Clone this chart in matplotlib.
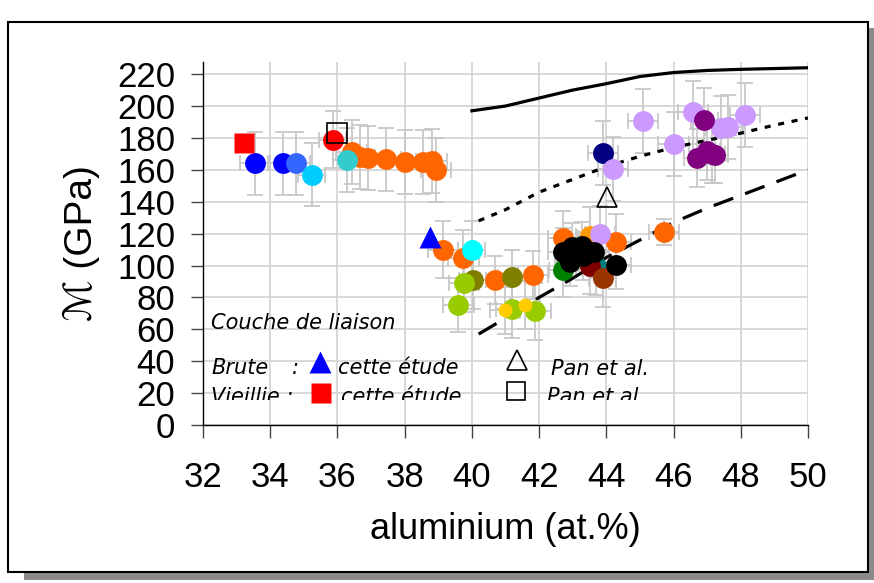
import matplotlib
matplotlib.use("Agg")
import matplotlib.pyplot as plt
from matplotlib.patches import Rectangle
from matplotlib.lines import Line2D
from matplotlib.transforms import Bbox, TransformedBbox

# ---------------- data ----------------
x_ticks = [32, 34, 36, 38, 40, 42, 44, 46, 48, 50]
y_ticks = [0, 20, 40, 60, 80, 100, 120, 140, 160, 180, 200, 220]

# model curves
solid_x = [40, 41, 42, 43, 44, 45, 46, 47, 48, 50]
solid_y = [197, 200, 205, 210, 214, 218.5, 221, 222.3, 223, 224]
dotted_x = [40.2, 41, 42, 43, 44, 45, 46, 47, 48, 49, 50]
dotted_y = [128, 135, 146, 154, 162, 168.5, 174, 178.5, 183, 188, 192.5]
dashed_x = [40.2, 41, 42, 43, 44, 45, 46, 47, 48, 49, 50]
dashed_y = [57, 67, 80, 92, 105, 116, 127, 136, 144, 152, 160]

# circle series
blue_x = [33.55, 34.39]; blue_y = [164, 164]
royal_x = [34.77]; royal_y = [164]
sky_x = [35.23]; sky_y = [157]
redc_x = [35.86]; redc_y = [179]
turq_x = [36.28]; turq_y = [166]
orange_x = [36.42, 36.67, 36.92, 37.43, 38.01, 38.54, 38.80, 38.93,
            39.15, 39.75, 40.69, 41.81, 42.72, 44.29, 45.72]
orange_y = [171, 168, 167.5, 166.5, 165, 165, 165.5, 160,
            110, 104.5, 91, 94, 117, 114.5, 121]
cyan_x = [39.99]; cyan_y = [110]
olive_x = [40.02, 41.18]; olive_y = [91, 92.8]
ygreen_x = [39.77, 39.60, 41.18, 41.89]; ygreen_y = [89, 75, 72.8, 71.2]
gold_x = [40.99, 41.58]; gold_y = [71.8, 75]
green_x = [42.70]; green_y = [97.4]
teal_x = [43.70]; teal_y = [99.5]
dred_x = [43.51]; dred_y = [100]
brown_x = [43.89]; brown_y = [92]
orange2_x = [43.51]; orange2_y = [118.5]
lav_x = [43.81, 44.19, 45.10, 46.00, 46.57, 47.41, 47.63, 48.13]
lav_y = [119.5, 160.5, 190.5, 176.3, 196, 186, 187, 194.5]
navy_x = [43.89]; navy_y = [170.5]
purple_x = [46.91, 46.71, 46.99, 47.13, 47.23]
purple_y = [191.5, 167.5, 171.5, 170, 169.5]
black_x = [44.29, 42.72, 42.97, 43.27, 43.62, 42.92, 43.31]
black_y = [100.3, 108.3, 111.5, 112.5, 108.3, 102, 106.2]

# error sizes
blue_xe = [0.45, 0.45]; blue_ye = [20, 20]
royal_xe = [0.4]; royal_ye = [20]
sky_xe = [0.4]; sky_ye = [20]
redc_xe = [0.4]; redc_ye = [18]
turq_xe = [0.4]; turq_ye = [20]
orange_xe = [0.45] * 15
orange_ye = [20, 20, 20, 20, 20, 20, 20, 20, 18, 18, 15, 15, 17, 18, 8]
cyan_xe = [0.4]; cyan_ye = [18]
olive_xe = [0.4, 0.4]; olive_ye = [18, 17]
ygreen_xe = [0.45, 0.45, 0.45, 0.45]; ygreen_ye = [18, 17, 18, 18]
gold_xe = [0.45, 0.45]; gold_ye = [15, 15]
green_xe = [0.4]; green_ye = [17]
teal_xe = [0.4]; teal_ye = [18]
dred_xe = [0.4]; dred_ye = [18]
brown_xe = [0.4]; brown_ye = [18]
orange2_xe = [0.4]; orange2_ye = [18]
lav_xe = [0.45] * 8; lav_ye = [18, 20, 20, 20, 20, 20, 20, 20]
navy_xe = [0.45]; navy_ye = [20]
purple_xe = [0.4] * 5; purple_ye = [20, 18, 18, 18, 18]
black_xe = [0.45] * 7; black_ye = [15, 15, 15, 15, 15, 15, 15]

# single-symbol points
bt_x = [38.74]; bt_y = [117.9]      # Brute, this study (filled triangle)
vs_x = [33.23]; vs_y = [177]        # Vieillie, this study (filled square)
pt_x = [44.03]; pt_y = [143]        # Brute, Pan et al. (open triangle)
ps_x = [36.0]; ps_y = [183]         # Vieillie, Pan et al. (open square)

# ---------------- figure ----------------
W, H = 874, 583
fig = plt.figure(figsize=(W / 100, H / 100), dpi=100)
fig.patch.set_facecolor("white")


def P(px, py):
    return px / W, 1 - py / H


# outer frame with shadow
fig.patches.append(Rectangle(P(24, 580), 850 / W, 552 / H, transform=fig.transFigure,
                             facecolor="#8a8a8a", edgecolor="none", zorder=0))
fig.patches.append(Rectangle(P(8, 572), 860 / W, 550 / H, transform=fig.transFigure,
                             facecolor="white", edgecolor="black", lw=1.5, zorder=1))

l, b = P(203, 425)
r, t = P(808, 62)
ax = fig.add_axes([l, b, r - l, t - b])
ax.set_zorder(2)
ax.patch.set_alpha(0)
ax.set_xlim(32, 50)
ax.set_ylim(0, 227.6)
ax.set_xticks(x_ticks)
ax.set_yticks(y_ticks)
ax.grid(True, color="#d2d2d2", lw=1.2, zorder=0)
ax.set_axisbelow(True)
for s in ["top", "right"]:
    ax.spines[s].set_visible(False)
for s in ["left", "bottom"]:
    ax.spines[s].set_linewidth(1.0)
    ax.spines[s].set_color("black")
ax.tick_params(axis="both", direction="out", length=9, width=1.0, color="#444444",
               labelsize=25)
ax.tick_params(axis="x", pad=17)
ax.tick_params(axis="y", pad=11)
for lab in ax.get_xticklabels() + ax.get_yticklabels():
    lab.set_family(["Liberation Sans", "DejaVu Sans"])

ax.set_xlabel("aluminium (at.%)", fontsize=26, family=["Liberation Sans", "DejaVu Sans"],
              labelpad=13)
ax.set_ylabel("ℳ (GPa)", fontsize=28, family=["Liberation Sans", "DejaVu Sans"],
              labelpad=12)

# model curves
ax.plot(solid_x, solid_y, color="black", lw=2.3, zorder=3)
ax.plot(dotted_x, dotted_y, color="black", lw=2.3, dashes=[1.9, 2.4], zorder=3)
ax.plot(dashed_x, dashed_y, color="black", lw=2.3, dashes=[6.5, 4], zorder=3)

MS = 15
series = [
    (orange_x, orange_y, orange_xe, orange_ye, "#FF6600", MS),
    (blue_x, blue_y, blue_xe, blue_ye, "#0000FF", MS),
    (royal_x, royal_y, royal_xe, royal_ye, "#3366FF", MS),
    (sky_x, sky_y, sky_xe, sky_ye, "#00CCFF", MS),
    (redc_x, redc_y, redc_xe, redc_ye, "#FF0000", MS),
    (turq_x, turq_y, turq_xe, turq_ye, "#33CCCC", MS),
    (cyan_x, cyan_y, cyan_xe, cyan_ye, "#00FFFF", MS),
    (olive_x, olive_y, olive_xe, olive_ye, "#808000", MS),
    (ygreen_x, ygreen_y, ygreen_xe, ygreen_ye, "#99CC00", MS),
    (gold_x, gold_y, gold_xe, gold_ye, "#FFCC00", 10),
    (green_x, green_y, green_xe, green_ye, "#008000", MS),
    (teal_x, teal_y, teal_xe, teal_ye, "#008080", MS),
    (dred_x, dred_y, dred_xe, dred_ye, "#800000", MS),
    (brown_x, brown_y, brown_xe, brown_ye, "#993300", MS),
    (orange2_x, orange2_y, orange2_xe, orange2_ye, "#FF9900", MS),
    (navy_x, navy_y, navy_xe, navy_ye, "#000080", MS),
    (lav_x, lav_y, lav_xe, lav_ye, "#CC99FF", MS),
    (purple_x, purple_y, purple_xe, purple_ye, "#800080", MS),
    (black_x, black_y, black_xe, black_ye, "#000000", MS),
]

# error bars first (behind all markers)
for xs, ys, xe, ye, c, ms in series:
    ax.errorbar(xs, ys, xerr=xe, yerr=ye, fmt="none", ecolor="#c8c8c8",
                elinewidth=1.3, capsize=6, capthick=1.3, zorder=2)
z = 4
for xs, ys, xe, ye, c, ms in series:
    ax.plot(xs, ys, "o", color=c, ms=ms, mec="none", zorder=z)
    z += 0.01

ax.plot(bt_x, bt_y, "^", color="#0000FF", ms=16, mec="none", zorder=5)
ax.plot(vs_x, vs_y, "s", color="#FF0000", ms=14.5, mec="none", zorder=5)
ax.plot(pt_x, pt_y, "^", color="none", ms=15, mec="black", mew=1.2, zorder=5)
ax.plot(ps_x, ps_y, "s", color="none", ms=14, mec="black", mew=1.2, zorder=5)

# legend block (text annotation), bottom row clipped like the original box
clip = TransformedBbox(Bbox([[0, 1 - 399.5 / H], [1, 1]]), fig.transFigure)
fnt = dict(fontsize=15, style="italic", family=["DejaVu Sans"], va="baseline",
           ha="left", zorder=6)


def txt(px, py, s):
    tt = fig.text(*P(px, py), s, **fnt)
    tt.set_clip_box(clip)
    tt.set_clip_on(True)
    return tt


txt(211, 329, "Couche de liaison")
txt(211, 374, "Brute")
txt(292, 374, ":")
txt(338, 374, "cette étude")
txt(551, 375, "Pan et al.")
txt(211, 403, "Vieillie :")
txt(341, 403, "cette étude")
txt(547, 403, "Pan et al.")

fig.lines.append(Line2D([P(320, 362)[0]], [P(320, 362)[1]], marker="^", ms=16,
                        color="#0000FF", mec="none", transform=fig.transFigure))
fig.lines.append(Line2D([P(320.5, 393)[0]], [P(320.5, 393)[1]], marker="s", ms=14,
                        color="#FF0000", mec="none", transform=fig.transFigure))
fig.lines.append(Line2D([P(516.5, 360)[0]], [P(516.5, 360)[1]], marker="^", ms=15,
                        color="none", mec="black", mew=1.2, transform=fig.transFigure))
fig.lines.append(Line2D([P(516, 391)[0]], [P(516, 391)[1]], marker="s", ms=13.5,
                        color="none", mec="black", mew=1.2, transform=fig.transFigure))

fig.savefig("out.png", dpi=100)
